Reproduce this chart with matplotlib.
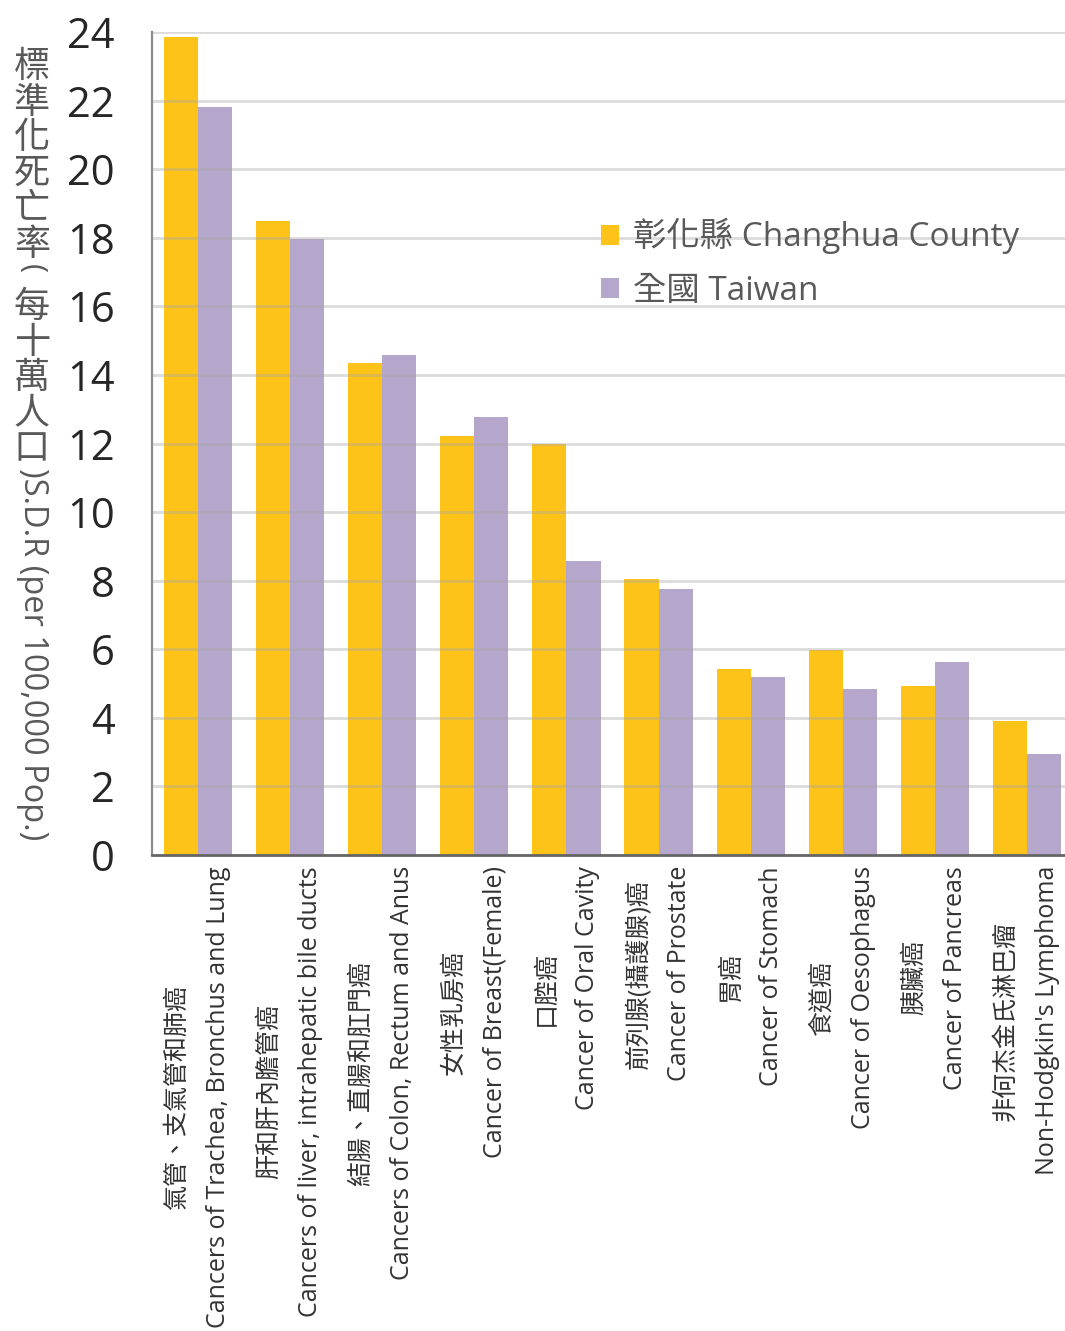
import matplotlib
matplotlib.use("Agg")
import matplotlib.pyplot as plt
import numpy as np

# ── data ─────────────────────────────────────────────────────────────────────
cats_zh = ["氣管、支氣管和肺癌", "肝和肝內膽管癌", "結腸、直腸和肛門癌", "女性乳房癌", "口腔癌",
           "前列腺(攝護腺)癌", "胃癌", "食道癌", "胰臟癌", "非何杰金氏淋巴瘤"]
cats_en = ["Cancers of Trachea, Bronchus and Lung", "Cancers of liver, intrahepatic bile ducts",
           "Cancers of Colon, Rectum and Anus", "Cancer of Breast(Female)", "Cancer of Oral Cavity",
           "Cancer of Prostate", "Cancer of Stomach", "Cancer of Oesophagus",
           "Cancer of Pancreas", "Non-Hodgkin's Lymphoma"]
changhua = [23.85, 18.5, 14.35, 12.22, 11.99, 8.05, 5.42, 5.98, 4.93, 3.91]
taiwan = [21.8, 17.96, 14.58, 12.77, 8.57, 7.76, 5.19, 4.84, 5.63, 2.95]
series_names = ["彰化縣 Changhua County", "全國 Taiwan"]
yticks = list(range(0, 25, 2))

FONT = ["Open Sans", "Noto Sans CJK TC", "DejaVu Sans"]
plt.rcParams["font.family"] = FONT

W, H = 1065, 1331
fig = plt.figure(figsize=(W / 100, H / 100), dpi=100)
ax = fig.add_axes([152 / W, 1 - 855 / H, 921 / W, (855 - 32) / H])

x = np.arange(len(cats_en))
bw = 0.37
ax.bar(x - bw / 2, changhua, bw, color="#FDC319", label=series_names[0], zorder=2)
ax.bar(x + bw / 2, taiwan, bw, color="#B5A7CB", label=series_names[1], zorder=2)

ax.set_xlim(-0.5, len(cats_en) - 0.5)
ax.set_ylim(0, 24)
ax.set_yticks(yticks)
ax.set_yticklabels([str(v) for v in yticks], fontsize=30, color="#262626")
ax.tick_params(axis="y", length=0, pad=27)
ax.tick_params(axis="x", length=0, pad=8)
ax.yaxis.grid(True, color="#a6a6a6", alpha=0.4, linewidth=2, zorder=3)
ax.set_axisbelow(False)

for s in ["top", "right"]:
    ax.spines[s].set_visible(False)
ax.spines["left"].set_color("#8c8c8c")
ax.spines["left"].set_linewidth(1.6)
ax.spines["bottom"].set_color("#666666")
ax.spines["bottom"].set_linewidth(2)
ax.spines["left"].set_zorder(4)
ax.spines["bottom"].set_zorder(4)

ax.set_xticks(x)
ax.set_xticklabels([f"{z}\n{e}" for z, e in zip(cats_zh, cats_en)], rotation=90,
                   fontsize=18, color="#333333", ha="center", va="top",
                   multialignment="center", linespacing=1.85)

# vertical y-axis title: upright CJK chars, rotated latin part
ycur = 50
upright1 = "標準化死亡率"
upright2 = "每十萬人口"
pitch = 35.5
for ch in upright1:
    fig.text(32 / W, 1 - ycur / H, ch, fontsize=26, color="#595959", ha="center", va="top")
    ycur += pitch
fig.text(32 / W, 1 - (ycur + 1) / H, "(", fontsize=22, color="#595959", ha="center", va="top", rotation=-90)
ycur += 27
for ch in upright2:
    fig.text(32 / W, 1 - ycur / H, ch, fontsize=26, color="#595959", ha="center", va="top")
    ycur += pitch
fig.text(32 / W, 1 - (ycur + 1) / H, ")S.D.R (per 100,000 Pop.)", fontsize=23.5, color="#595959",
         ha="center", va="top", rotation=-90)

fig.legend(loc="upper left", bbox_to_anchor=(571 / W, 1 - 188 / H), frameon=False,
           fontsize=24, labelcolor="#595959", handlelength=0.55, handleheight=0.55,
           handletextpad=0.4, labelspacing=0.62)

fig.savefig("out.png", dpi=100)
